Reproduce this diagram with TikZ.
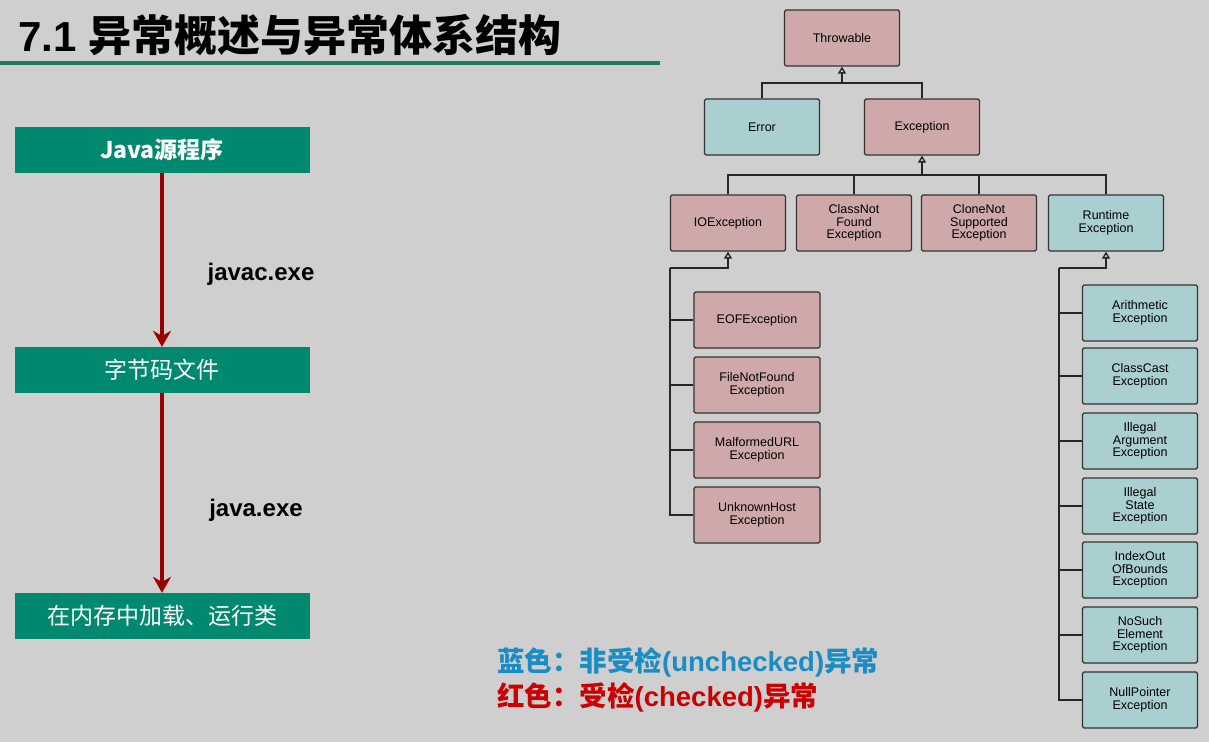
\documentclass[tikz,border=0pt]{standalone}
\usepackage{fontspec}
\setmainfont{Liberation Sans}
\newfontfamily\cjk{Noto Sans CJK SC}
\usetikzlibrary{arrows.meta}
\definecolor{bg}{HTML}{CFCFCF}
\definecolor{pinkc}{HTML}{CFA9AA}
\definecolor{tealc}{HTML}{A9CFD0}
\definecolor{greenc}{HTML}{00896F}
\definecolor{lineg}{HTML}{1F7A64}
\definecolor{darkred}{HTML}{990000}
\definecolor{bluec}{HTML}{1C8CC4}
\definecolor{redc}{HTML}{CC0000}
\tikzset{
  cls/.style={draw=black!80, line width=1.2pt, rounded corners=1.5pt, minimum width=115pt, minimum height=56pt, align=center, font=\fontsize{12.5}{12.5}\selectfont, inner sep=1pt},
  chk/.style={cls, fill=pinkc},
  unc/.style={cls, fill=tealc},
  flow/.style={fill=greenc, text=white, minimum width=295pt, minimum height=46pt, font=\cjk\fontsize{23}{25}\selectfont},
  inh/.style={draw=black!85, line width=1.4pt, -{Triangle[open,width=8pt,length=7pt]}},
  tl/.style={draw=black!85, line width=1.4pt},
  rarr/.style={draw=darkred, line width=3.5pt, -{Stealth[length=16pt,width=18pt]}}
}
\begin{document}
\begin{tikzpicture}[x=1pt,y=-1pt]
\fill[bg] (0,0) rectangle (1209,742);
\useasboundingbox (0,0) rectangle (1209,742);
% title
\node[anchor=west, inner sep=0pt, font=\bfseries\fontsize{42}{44}\selectfont] (title) at (18,35) {7.1 {\cjk\fontsize{43}{44}\selectfont 异常概述与异常体系结构}};
\draw[lineg, line width=3.5pt] (0,63) -- (660,63);
% flow
\node[flow] (src) at (162,150) {\bfseries Java{\cjk 源程序}};
\node[flow] (bc) at (162,370) {字节码文件};
\node[flow] (run) at (162,616) {在内存中加载、运行类};
\draw[rarr] (src.south) -- (bc.north);
\draw[rarr] (bc.south) -- (run.north);
\node[font=\bfseries\fontsize{24}{26}\selectfont] (l1) at (261,274) {javac.exe};
\node[font=\bfseries\fontsize{24}{26}\selectfont] (l2) at (256,510) {java.exe};
% tree
\node[chk] (thr) at (842,38) {Throwable};
\node[unc] (err) at (762,127) {Error};
\node[chk] (exc) at (922,127) {Exception};
\node[chk] (io) at (728,223) {IOException};
\node[chk] (cnf) at (854,223) {ClassNot\\Found\\Exception};
\node[chk] (cns) at (979,223) {CloneNot\\Supported\\Exception};
\node[unc] (rt) at (1106,223) {Runtime\\Exception};
\coordinate (j1) at (842,83);
\draw[tl] (err.north) |- (j1) -| (exc.north);
\draw[inh] (j1) -- (thr.south);
\coordinate (j2) at (922,175);
\draw[tl] (io.north) |- (j2) -| (rt.north);
\draw[tl] (cnf.north) -- (cnf.north |- j2);
\draw[tl] (cns.north) -- (cns.north |- j2);
\draw[inh] (j2) -- (exc.south);
% io children
\node[chk, minimum width=126pt] (eof) at (757,320) {EOFException};
\node[chk, minimum width=126pt] (fnf) at (757,385) {FileNotFound\\Exception};
\node[chk, minimum width=126pt] (mal) at (757,450) {MalformedURL\\Exception};
\node[chk, minimum width=126pt] (uh) at (757,515) {UnknownHost\\Exception};
\coordinate (k1) at (728,268);
\coordinate (v1) at (670,268);
\draw[inh] (v1) -- (k1) -- (io.south);
\draw[tl] (v1) |- (uh.west);
\foreach \n in {eof,fnf,mal} \draw[tl] (v1 |- \n.west) -- (\n.west);
% runtime children
\foreach \n/\y/\t in {ar/313/{Arithmetic\\Exception}, cc/376/{ClassCast\\Exception}, ia/441/{Illegal\\Argument\\Exception}, is/506/{Illegal\\State\\Exception}, ib/570/{IndexOut\\OfBounds\\Exception}, ns/635/{NoSuch\\Element\\Exception}, np/700/{NullPointer\\Exception}}
  \node[unc] (\n) at (1140,\y) {\t};
\coordinate (k2) at (1106,268);
\coordinate (v2) at (1059,268);
\draw[inh] (v2) -- (k2) -- (rt.south);
\draw[tl] (v2) |- (np.west);
\foreach \n in {ar,cc,ia,is,ib,ns} \draw[tl] (v2 |- \n.west) -- (\n.west);
% legend
\node[anchor=west, inner sep=0pt, text=bluec, font=\bfseries\fontsize{27.5}{29}\selectfont] (lg1) at (497,662) {{\cjk 蓝色：非受检}(unchecked){\cjk 异常}};
\node[anchor=west, inner sep=0pt, text=redc, font=\bfseries\fontsize{27.5}{29}\selectfont] (lg2) at (497,697) {{\cjk 红色：受检}(checked){\cjk 异常}};
\end{tikzpicture}
\end{document}
